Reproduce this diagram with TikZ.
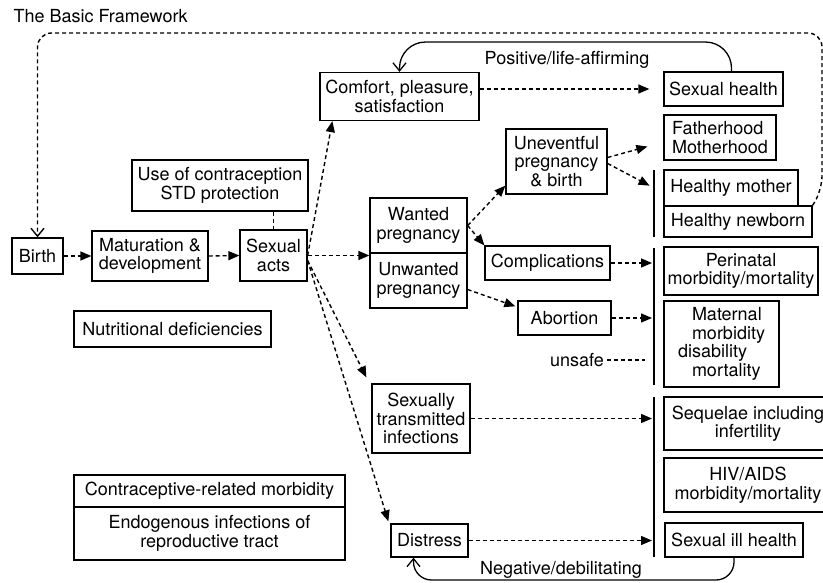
\documentclass[tikz,border=0pt]{standalone}
\usepackage{fontspec}
\setmainfont{TeX Gyre Heros}
\usetikzlibrary{arrows.meta}
\newcommand\diagfont{\fontsize{18}{18.5}\selectfont}
\tikzset{
  box/.style={draw, line width=1.3pt, align=center, inner sep=1pt},
  dashlink/.style={line width=1.4pt, dash pattern=on 4pt off 3pt},
  dasharrow/.style={dashlink, -{Triangle[length=11pt,width=9pt]}},
  loopline/.style={line width=1.3pt, -{Straight Barb[length=8pt,width=13pt]}},
  fbline/.style={dashlink, -{Straight Barb[length=8pt,width=13pt]}},
  bar/.style={line width=2.6pt},
}
\begin{document}
\begin{tikzpicture}[x=1pt,y=-1pt,font=\diagfont]
\useasboundingbox[fill=white] (0,0) rectangle (823,582);
\node[anchor=west] (title) at (10,16) {The Basic Framework};
\node[box, minimum width=51, minimum height=36] (birth) at (37.5,256) {Birth};
\node[box, minimum width=116, minimum height=50] (matur) at (150,256) {Maturation \&\\development};
\node[box, minimum width=67, minimum height=51] (sexacts) at (273.5,255.5) {Sexual\\acts};
\node[box, minimum width=176, minimum height=51] (contra) at (220,185.5) {Use of contraception\\STD protection};
\node[box, minimum width=197, minimum height=36] (nutri) at (172.5,329) {Nutritional deficiencies};
\node[box, minimum width=159, minimum height=48] (comfort) at (399.5,96.5) {Comfort, pleasure,\\satisfaction};
\node[box, minimum width=119, minimum height=34] (sexhealth) at (723.5,89) {Sexual health};
\node[box, minimum width=97, minimum height=55] (wanted) at (418.5,225.5) {Wanted\\pregnancy};
\node[box, minimum width=97, minimum height=55] (unwanted) at (418.5,280.5) {Unwanted\\pregnancy};
\node[box, minimum width=101, minimum height=65] (unevent) at (556.5,161.5) {Uneventful\\pregnancy\\\& birth};
\node[box, minimum width=125, minimum height=34] (compl) at (547.5,263) {Complications};
\node[box, minimum width=93, minimum height=34] (abort) at (564.5,318) {Abortion};
\node (unsafe) at (577,360) {unsafe};
\node[box, minimum width=98, minimum height=69] (sti) at (421,418.5) {Sexually\\transmitted\\infections};
\node[box, minimum width=77, minimum height=33] (distress) at (429.5,540.5) {Distress};
\node[box, align=left, minimum width=112, minimum height=45] (father) at (720,137.5) {Fatherhood\\Motherhood};
\node[box, minimum width=134, minimum height=36] (hmother) at (731,188) {Healthy mother};
\node[box, minimum width=148, minimum height=31] (hnewborn) at (738,221.5) {Healthy newborn};
\node[box, minimum width=154, minimum height=48] (perinatal) at (741,271) {Perinatal\\morbidity/mortality};
\node[box, align=left, minimum width=115, minimum height=86] (maternal) at (721.5,344)
  {\hspace*{14pt}Maternal\\\hspace*{14pt}morbidity\\disability\\\hspace*{14pt}mortality};
\node[box, minimum width=168, minimum height=53] (sequelae) at (748,423.5) {Sequelae including\\infertility};
\node[box, minimum width=168, minimum height=54] (hiv) at (748,485) {HIV/AIDS\\morbidity/mortality};
\node[box, minimum width=138, minimum height=34] (sexill) at (734,540) {Sexual ill health};
\node[box, minimum width=271, minimum height=32] (cmorb) at (209.5,491) {Contraceptive-related morbidity};
\node[box, minimum width=271, minimum height=53] (endo) at (209.5,533.5) {Endogenous infections of\\reproductive tract};
\node (positive) at (567,60) {Positive/life-affirming};
\node (negative) at (561,570) {Negative/debilitating};

\coordinate (barx) at (654,0);
\foreach \a/\b in {170/237, 248/385, 397/557}
  \draw[bar] (654,\a) -- (654,\b);

\draw[dashlink] (sexacts.north |- contra.south) -- (sexacts.north);
\draw[dasharrow] (birth.east) -- (matur.west);
\draw[dasharrow] (matur.east) -- (sexacts.west);
\draw[dasharrow] (sexacts.east) -- (sexacts.east -| wanted.west);
\draw[dasharrow] (sexacts.east) -- ([xshift=13pt]comfort.south west);
\draw[dasharrow] ([yshift=-5pt]sexacts.east) -- ([xshift=-5pt,yshift=6pt]sti.north west);
\draw[dasharrow] ([yshift=-5pt]sexacts.east) -- ([xshift=-2pt,yshift=2pt]distress.north west);
\draw[dasharrow] (comfort.east |- sexhealth.west) -- ([xshift=-14pt]sexhealth.west);
\draw[dasharrow] (wanted.east) -- ([yshift=9pt]unevent.south west);
\draw[dasharrow] (wanted.east) -- (compl.north west);
\draw[dasharrow] ([yshift=-9pt]unwanted.east) -- ([xshift=-2pt,yshift=-6pt]abort.north west);
\draw[dasharrow] ([yshift=4pt]unevent.east) -- ([xshift=-16pt,yshift=-9pt]father.west);
\draw[dasharrow, shorten >=5pt] ([yshift=-2pt]unevent.east) -- (barx |- hmother);
\draw[dasharrow, shorten >=2pt] (compl.east) -- (compl.east -| barx);
\draw[dasharrow, shorten >=2pt] (abort.east) -- (abort.east -| barx);
\draw[dasharrow, shorten >=2pt] (sti.east) -- (sti.east -| barx);
\draw[dasharrow, shorten >=2pt] (distress.east) -- (distress.east -| barx);
\draw[dashlink] (unsafe.east) -- ([xshift=-9pt]unsafe.east -| barx);

\coordinate (toprail) at (0,42);
\coordinate (shtop) at ([xshift=8pt]sexhealth.north);
\draw[loopline, rounded corners=26pt] (shtop) -- (shtop |- toprail) -- (comfort.north |- toprail) -- (comfort.north);

\coordinate (botrail) at (0,580);
\coordinate (dsfoot) at ([xshift=-16pt]distress.south);
\draw[loopline, rounded corners=18pt] (sexill.south) -- (sexill.south |- botrail) -- (dsfoot |- botrail) -- (dsfoot);

\coordinate (fbright) at (822,190);
\coordinate (fbtop) at (822,33);
\draw[fbline, rounded corners=14pt] (hnewborn.north east) -- (fbright) -- (fbtop) -- (birth.north |- fbtop) -- (birth.north);
\end{tikzpicture}
\end{document}
